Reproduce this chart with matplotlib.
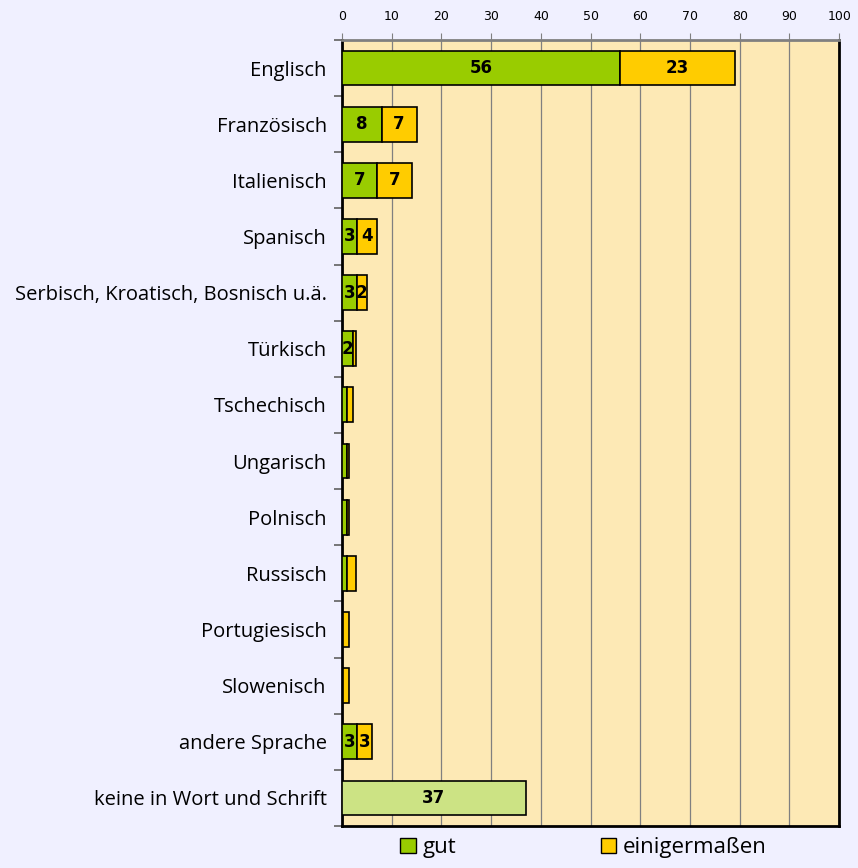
import matplotlib
matplotlib.use("Agg")
import matplotlib.pyplot as plt
from matplotlib.patches import Patch

categories = ["Englisch", "Französisch", "Italienisch", "Spanisch",
              "Serbisch, Kroatisch, Bosnisch u.ä.", "Türkisch", "Tschechisch",
              "Ungarisch", "Polnisch", "Russisch", "Portugiesisch", "Slowenisch",
              "andere Sprache", "keine in Wort und Schrift"]
gut = [56, 8, 7, 3, 3, 2.2, 1.0, 1.1, 1.1, 1.0, 0.2, 0.2, 3, 37]
einig = [23, 7, 7, 4, 2, 0.6, 1.2, 0.3, 0.3, 1.9, 1.2, 1.2, 3, 0]
gut_labels = ["56", "8", "7", "3", "3", "2", "", "", "", "", "", "", "3", "37"]
einig_labels = ["23", "7", "7", "4", "2", "", "", "", "", "", "", "", "3", ""]
xticks = list(range(0, 101, 10))

GREEN = "#99CC00"
YELLOW = "#FFCC00"
LIGHTGREEN = "#CCE384"
BG = "#F0F0FF"
PLOT = "#FDE9B5"
FONT = ["Open Sans", "DejaVu Sans"]

fig = plt.figure(figsize=(8.58, 8.68), dpi=100, facecolor=BG)
ax = fig.add_axes([0.3986, 0.0484, 0.5795, 0.9056])
ax.set_facecolor(PLOT)

n = len(categories)
ypos = list(range(n))
h = 0.62
for i in ypos:
    col = LIGHTGREEN if i == n - 1 else GREEN
    ax.barh(i, gut[i], height=h, color=col, edgecolor="black", linewidth=1.2, zorder=3)
    if einig[i] > 0:
        ax.barh(i, einig[i], left=gut[i], height=h, color=YELLOW, edgecolor="black",
                linewidth=1.2, zorder=3)
    if gut_labels[i]:
        ax.text(gut[i] / 2, i, gut_labels[i], ha="center", va="center",
                fontsize=12, fontweight="bold", family="DejaVu Sans", zorder=4)
    if einig_labels[i]:
        ax.text(gut[i] + einig[i] / 2, i, einig_labels[i], ha="center", va="center",
                fontsize=12, fontweight="bold", family="DejaVu Sans", zorder=4)

ax.set_xlim(0, 100)
ax.set_ylim(n - 0.5, -0.5)
ax.set_xticks(xticks)
ax.xaxis.tick_top()
ax.tick_params(axis="x", labelsize=9, length=5, color="#808080", pad=7)
for lab in ax.get_xticklabels():
    lab.set_family("DejaVu Sans")
ax.grid(axis="x", color="#808080", linewidth=0.9, zorder=1)

ax.set_yticks([y + 0.5 for y in range(-1, n)], minor=False)
ax.set_yticklabels([])
ax.set_yticks(ypos, minor=True)
ax.set_yticklabels(categories, minor=True, fontsize=14.5, family=FONT)
ax.tick_params(axis="y", which="major", length=6, color="#606060", width=1.2)
ax.tick_params(axis="y", which="minor", length=0, pad=11)

for s in ["left", "right", "bottom"]:
    ax.spines[s].set_color("black")
    ax.spines[s].set_linewidth(2)
ax.spines["top"].set_color("#808080")
ax.spines["top"].set_linewidth(2)

handles = [Patch(facecolor=GREEN, edgecolor="black", label="gut"),
           Patch(facecolor=YELLOW, edgecolor="black", label="einigermaßen")]
fig.legend(handles=handles, loc="lower center", bbox_to_anchor=(0.68, -0.012), ncol=2,
           frameon=False, prop={"family": FONT, "size": 16}, handlelength=0.7,
           handleheight=0.7, handletextpad=0.3, columnspacing=6.5)

fig.savefig("out.png", dpi=100, facecolor=BG)
